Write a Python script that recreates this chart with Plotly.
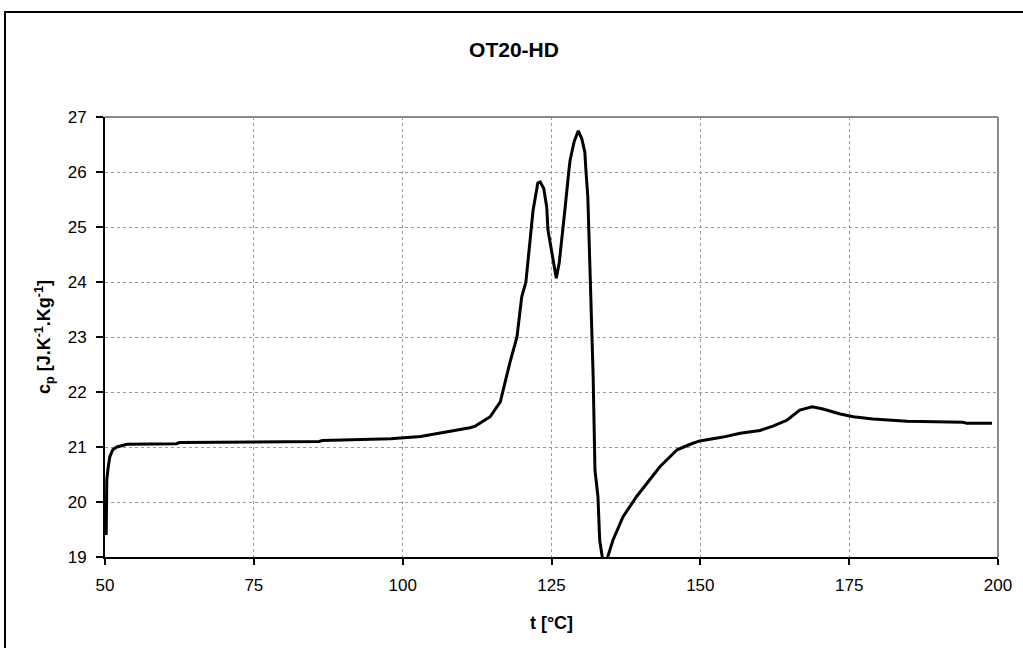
import plotly.graph_objects as go

t_values = [50.2, 50.25, 50.3, 50.5, 50.8, 51.3, 52.0, 53.7, 62.0, 62.5, 79.0, 86.0, 86.5,
            98.0, 103.0, 106.3, 111.3, 112.2, 114.7, 116.4, 116.9, 118.0, 119.2, 120.0,
            120.7, 121.4, 121.9, 122.7, 123.1, 123.7, 124.2, 124.4, 125.1, 125.8, 126.3,
            126.8, 127.3, 127.8, 128.1, 128.8, 129.5, 130.1, 130.6, 130.8, 131.1, 131.5,
            132.0, 132.3, 132.8, 133.1, 133.6, 134.3, 135.3, 137.0, 139.3, 143.2, 146.1,
            148.3, 149.9, 153.8, 156.7, 160.0, 162.2, 164.6, 166.7, 168.8, 170.6, 173.5,
            175.7, 179.0, 184.7, 194.1, 194.8, 199.0]
cp_values = [19.4, 20.0, 20.4, 20.6, 20.82, 20.95, 21.0, 21.05, 21.06, 21.08, 21.09, 21.1, 21.12,
             21.15, 21.19, 21.25, 21.35, 21.38, 21.55, 21.82, 22.04, 22.53, 23.0, 23.73,
             24.0, 24.7, 25.3, 25.8, 25.82, 25.7, 25.36, 24.95, 24.5, 24.07, 24.35,
             24.8, 25.36, 25.9, 26.2, 26.55, 26.75, 26.6, 26.36, 26.0, 25.55, 24.1,
             22.27, 20.58, 20.1, 19.3, 18.95, 18.95, 19.3, 19.73, 20.1, 20.64, 20.95,
             21.05, 21.11, 21.18, 21.25, 21.3, 21.38, 21.49, 21.67, 21.73, 21.69, 21.6,
             21.55, 21.51, 21.47, 21.45, 21.43, 21.43]

x_ticks = [50, 75, 100, 125, 150, 175, 200]
y_ticks = [19, 20, 21, 22, 23, 24, 25, 26, 27]

FONT = "Liberation Sans, Arial, sans-serif"

fig = go.Figure()
fig.add_trace(go.Scatter(x=t_values, y=cp_values, mode="lines",
                         line=dict(color="black", width=3), showlegend=False))

W, H = 1023, 648
L, R, T, B = 105, 25, 117, 91
pw, ph = W - L - R, H - T - B

def px_x(p):
    return (p - L) / pw

def px_y(p):
    return (H - B - p) / ph

fig.update_layout(
    width=W, height=H,
    margin=dict(l=L, r=R, t=T, b=B),
    paper_bgcolor="white", plot_bgcolor="white",
    font=dict(family=FONT, size=17, color="black"),
    title=dict(text="<b>OT20-HD</b>", x=514 / W, xref="container", xanchor="center",
               y=1 - 50 / H, yref="container", yanchor="middle",
               font=dict(family=FONT, size=21, color="black")),
    xaxis=dict(range=[50, 200], tickvals=x_ticks, ticks="outside", ticklen=6,
               tickcolor="black", tickwidth=1.5, showline=True, linecolor="black", linewidth=2,
               showgrid=True, gridcolor="#9a9a9a", griddash="dot", gridwidth=1,
               zeroline=False, tickfont=dict(size=17), ticklabelstandoff=6,
               title=dict(text="<b>t [°C]</b>", font=dict(size=18), standoff=22)),
    yaxis=dict(range=[19, 27], tickvals=y_ticks, ticks="outside", ticklen=7,
               tickcolor="black", tickwidth=1.5, showline=True, linecolor="black", linewidth=2,
               showgrid=True, gridcolor="#9a9a9a", griddash="dot", gridwidth=1,
               zeroline=False, tickfont=dict(size=17), ticklabelstandoff=6,
               title=dict(text="<b>c<sub>p</sub> [J.K<sup>-1</sup>.Kg<sup>-1</sup>]</b>",
                          font=dict(size=18), standoff=12)),
)

# gray top/right border of plot area
fig.add_shape(type="line", xref="paper", yref="paper", x0=0, x1=1, y0=1, y1=1,
              line=dict(color="#8a8a8a", width=2))
fig.add_shape(type="line", xref="paper", yref="paper", x0=1, x1=1, y0=0, y1=1,
              line=dict(color="#8a8a8a", width=2))
# outer chart frame
fig.add_shape(type="rect", xref="paper", yref="paper",
              x0=px_x(5), x1=px_x(1040), y0=px_y(665), y1=px_y(12),
              line=dict(color="black", width=2), layer="below")

fig.write_html("out.html")
